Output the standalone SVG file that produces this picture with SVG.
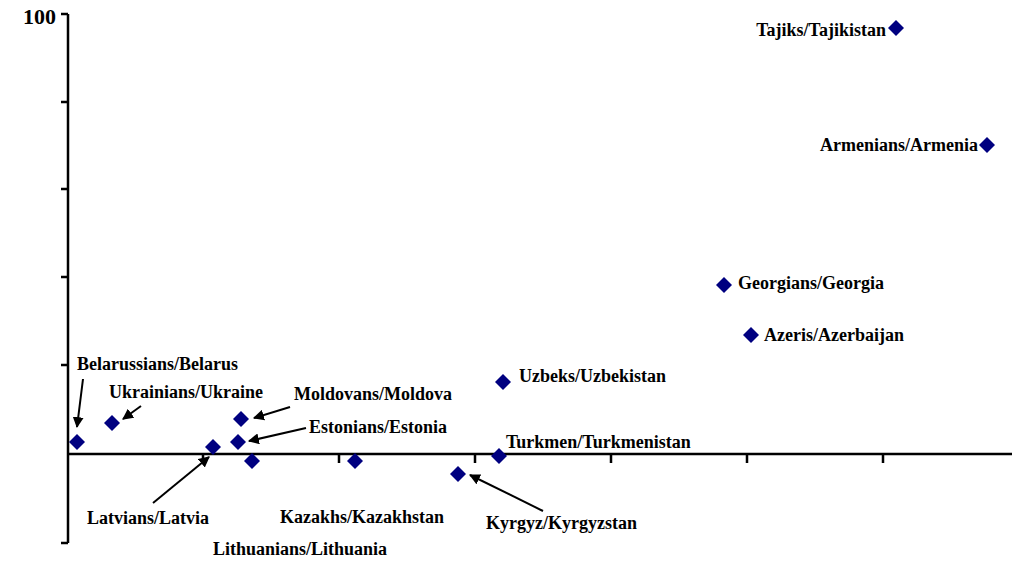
<svg xmlns="http://www.w3.org/2000/svg" width="1012" height="564" viewBox="0 0 1012 564">
<style>
.lbl{font-family:"Liberation Serif","Times New Roman",serif;font-weight:bold;font-size:18px;fill:#000}
.num{font-family:"Liberation Serif","Times New Roman",serif;font-weight:bold;font-size:22px;fill:#000}
.axis{stroke:#000;stroke-width:2.5;fill:none}
.arr{stroke:#000;stroke-width:2;fill:none;marker-end:url(#ah)}
.pt{fill:#000080}
</style>
<defs>
<marker id="ah" viewBox="0 0 10 10" refX="9" refY="5" markerWidth="5.5" markerHeight="5.5" orient="auto" markerUnits="strokeWidth">
<path d="M0,0 L10,5 L0,10 z" fill="#000"/>
</marker>
<path id="d" d="M0,-8 L8,0 L0,8 L-8,0 z"/>
</defs>
<rect width="1012" height="564" fill="#fff"/>
<g id="axes">
<path class="axis" d="M68,14 V543 M61,14 H68 M61,102 H68 M61,189 H68 M61,277 H68 M61,365 H68 M61,543 H68"/>
<path class="axis" d="M68,454 H1012 M203,454 V463 M339,454 V463 M475,454 V463 M611,454 V463 M747,454 V463 M883,454 V463"/>
<text class="num" x="56" y="24" text-anchor="end">100</text>
</g>
<g id="connectors">
<line class="arr" x1="83" y1="379" x2="77" y2="427"/>
<line class="arr" x1="141" y1="406" x2="123" y2="419"/>
<line class="arr" x1="290" y1="407" x2="254" y2="418"/>
<line class="arr" x1="306" y1="428" x2="249" y2="441"/>
<line class="arr" x1="153" y1="503" x2="209" y2="457"/>
<line class="arr" x1="543" y1="511" x2="470" y2="475"/>
</g>
<g id="belarus"><use href="#d" class="pt" x="77" y="442"/><text class="lbl" x="77" y="370">Belarussians/Belarus</text></g>
<g id="ukraine"><use href="#d" class="pt" x="112" y="423"/><text class="lbl" x="109" y="398">Ukrainians/Ukraine</text></g>
<g id="latvia"><use href="#d" class="pt" x="213" y="447"/><text class="lbl" x="87" y="524">Latvians/Latvia</text></g>
<g id="moldova"><use href="#d" class="pt" x="241" y="419"/><text class="lbl" x="294" y="400">Moldovans/Moldova</text></g>
<g id="estonia"><use href="#d" class="pt" x="238" y="442"/><text class="lbl" x="309" y="433">Estonians/Estonia</text></g>
<g id="lithuania"><use href="#d" class="pt" x="252" y="461"/><text class="lbl" x="213" y="555">Lithuanians/Lithuania</text></g>
<g id="kazakhstan"><use href="#d" class="pt" x="355" y="461"/><text class="lbl" x="280" y="523">Kazakhs/Kazakhstan</text></g>
<g id="kyrgyzstan"><use href="#d" class="pt" x="458" y="474"/><text class="lbl" x="486" y="529">Kyrgyz/Kyrgyzstan</text></g>
<g id="turkmenistan"><use href="#d" class="pt" x="499" y="456"/><text class="lbl" x="506" y="448">Turkmen/Turkmenistan</text></g>
<g id="uzbekistan"><use href="#d" class="pt" x="503" y="382"/><text class="lbl" x="519" y="382">Uzbeks/Uzbekistan</text></g>
<g id="georgia"><use href="#d" class="pt" x="724" y="285"/><text class="lbl" x="738" y="289">Georgians/Georgia</text></g>
<g id="azerbaijan"><use href="#d" class="pt" x="751" y="335"/><text class="lbl" x="764" y="341">Azeris/Azerbaijan</text></g>
<g id="tajikistan"><use href="#d" class="pt" x="896" y="28"/><text class="lbl" x="886" y="36" text-anchor="end">Tajiks/Tajikistan</text></g>
<g id="armenia"><use href="#d" class="pt" x="987" y="145"/><text class="lbl" x="978" y="151" text-anchor="end">Armenians/Armenia</text></g>
</svg>
